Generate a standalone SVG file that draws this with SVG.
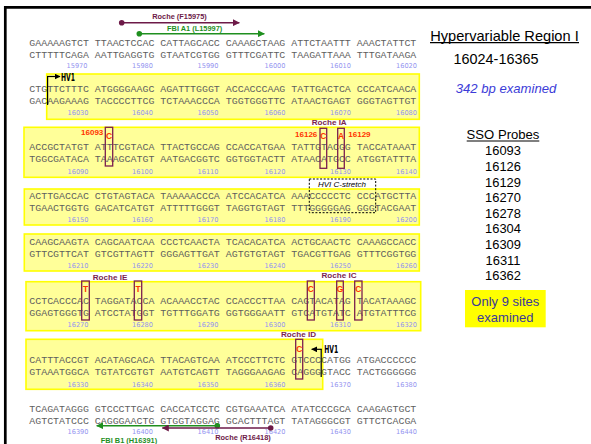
<svg xmlns="http://www.w3.org/2000/svg" width="591" height="444" viewBox="0 0 591 444">
<style>
.seq{font-family:"Liberation Mono","Courier New",monospace;font-size:9.93px;fill:#5e5e5e;white-space:pre}
.num{font-family:"DejaVu Sans",Verdana,sans-serif;font-size:6.6px;fill:#9494f0;text-anchor:end}
.band{fill:#ffff99;stroke:#ffff00;stroke-width:1.6}
.site{fill:none;stroke:#7b1f4f;stroke-width:1.3}
.mut{font-family:"Liberation Sans",Arial,sans-serif;font-weight:bold;font-size:8.5px;fill:#ff3300;text-anchor:middle}
.pos{font-family:"Liberation Sans",Arial,sans-serif;font-weight:bold;font-size:8px;fill:#ff3300}
.probe{font-family:"Liberation Sans",Arial,sans-serif;font-weight:bold;font-size:8.1px;fill:#7b1f4f;text-anchor:middle}
.prim{font-family:"Liberation Sans",Arial,sans-serif;font-weight:bold;font-size:7.4px;text-anchor:middle}
.hv{font-family:"DejaVu Sans Condensed","DejaVu Sans",sans-serif;font-weight:bold;font-size:10px;fill:#000}
.info{font-family:"Liberation Sans",Arial,sans-serif;fill:#000;text-anchor:middle}
.blue{font-family:"Liberation Sans",Arial,sans-serif;text-anchor:middle;font-size:13px;fill:#3a3a9a}
.exam{font-family:"Liberation Sans",Arial,sans-serif;text-anchor:middle;font-size:13.1px;font-style:italic;fill:#3c3cd8}
</style>
<defs>
<marker id="tipM" markerWidth="7" markerHeight="7" refX="6.5" refY="3.5" orient="auto" markerUnits="userSpaceOnUse"><path d="M0,0 L7,3.5 L0,7 z" fill="#6d1a48"/></marker>
<marker id="tipG" markerWidth="7" markerHeight="7" refX="6.5" refY="3.5" orient="auto" markerUnits="userSpaceOnUse"><path d="M0,0 L7,3.5 L0,7 z" fill="#1f8f1f"/></marker>
<marker id="tipK" markerWidth="6" markerHeight="6" refX="5.5" refY="3" orient="auto" markerUnits="userSpaceOnUse"><path d="M0,0 L6,3 L0,6 z" fill="#000"/></marker>
</defs>

<rect width="591" height="444" fill="#fff"/>
<g id="frame">
<line x1="4" y1="7.3" x2="591" y2="7.3" stroke="#000" stroke-width="2.7"/>
<line x1="5.3" y1="6" x2="5.3" y2="444" stroke="#000" stroke-width="2.7"/>
</g>

<g id="bands">
<rect class="band" x="46.7" y="74" width="372.6" height="45.3"/>
<rect class="band" x="24" y="127.3" width="395.3" height="50"/>
<rect class="band" x="24.3" y="189" width="395" height="36"/>
<rect class="band" x="24.3" y="234" width="395" height="37"/>
<rect class="band" x="26" y="281.7" width="394.7" height="49"/>
<rect class="band" x="26" y="339.3" width="296.7" height="50"/>
</g>

<g id="row1">
<text class="seq" x="29.3" y="45.9">GAAAAAGTCT TTAACTCCAC CATTAGCACC CAAAGCTAAG ATTCTAATTT AAACTATTCT</text>
<text class="seq" x="29.3" y="57.6">CTTTTTCAGA AATTGAGGTG GTAATCGTGG GTTTCGATTC TAAGATTAAA TTTGATAAGA</text>
<g transform="translate(0,67.8)"><text class="num" x="87.5">15970</text><text class="num" x="153">15980</text><text class="num" x="218.5">15990</text><text class="num" x="285.5">16000</text><text class="num" x="351">16010</text><text class="num" x="417">16020</text></g>
</g>
<g id="row2">
<text class="seq" x="29.3" y="91.9">CTGTTCTTTC ATGGGGAAGC AGATTTGGGT ACCACCCAAG TATTGACTCA CCCATCAACA</text>
<text class="seq" x="29.3" y="103.8">GACAAGAAAG TACCCCTTCG TCTAAACCCA TGGTGGGTTC ATAACTGAGT GGGTAGTTGT</text>
<g transform="translate(0,115.1)"><text class="num" x="88.5">16030</text><text class="num" x="153">16040</text><text class="num" x="218.5">16050</text><text class="num" x="285.5">16060</text><text class="num" x="351">16070</text><text class="num" x="417">16080</text></g>
</g>
<g id="row3">
<text class="seq" x="29.3" y="150.2">ACCGCTATGT ATTTCGTACA TTACTGCCAG CCACCATGAA TATTGTACGG TACCATAAAT</text>
<text class="seq" x="29.3" y="162.2">TGGCGATACA TAAAGCATGT AATGACGGTC GGTGGTACTT ATAACATGCC ATGGTATTTA</text>
<g transform="translate(0,174.1)"><text class="num" x="88.5">16090</text><text class="num" x="153">16100</text><text class="num" x="218.5">16110</text><text class="num" x="285.5">16120</text><text class="num" x="351">16130</text><text class="num" x="417">16140</text></g>
</g>
<g id="row4">
<text class="seq" x="29.3" y="198.6">ACTTGACCAC CTGTAGTACA TAAAAACCCA ATCCACATCA AAACCCCCTC CCCATGCTTA</text>
<text class="seq" x="29.3" y="211.2">TGAACTGGTG GACATCATGT ATTTTTGGGT TAGGTGTAGT TTTGGGGGAG GGGTACGAAT</text>
<g transform="translate(0,221.8)"><text class="num" x="88.5">16150</text><text class="num" x="153">16160</text><text class="num" x="218.5">16170</text><text class="num" x="285.5">16180</text><text class="num" x="351">16190</text><text class="num" x="417">16200</text></g>
</g>
<g id="row5">
<text class="seq" x="29.3" y="245.2">CAAGCAAGTA CAGCAATCAA CCCTCAACTA TCACACATCA ACTGCAACTC CAAAGCCACC</text>
<text class="seq" x="29.3" y="256.9">GTTCGTTCAT GTCGTTAGTT GGGAGTTGAT AGTGTGTAGT TGACGTTGAG GTTTCGGTGG</text>
<g transform="translate(0,268.4)"><text class="num" x="88.5">16210</text><text class="num" x="153">16220</text><text class="num" x="218.5">16230</text><text class="num" x="285.5">16240</text><text class="num" x="351">16250</text><text class="num" x="417">16260</text></g>
</g>
<g id="row6">
<text class="seq" x="29.3" y="303.6">CCTCACCCAC TAGGATACCA ACAAACCTAC CCACCCTTAA CAGTACATAG TACATAAAGC</text>
<text class="seq" x="29.3" y="316.2">GGAGTGGGTG ATCCTATGGT TGTTTGGATG GGTGGGAATT GTCATGTATC ATGTATTTCG</text>
<g transform="translate(0,327.4)"><text class="num" x="88.5">16270</text><text class="num" x="153">16280</text><text class="num" x="218.5">16290</text><text class="num" x="285.5">16300</text><text class="num" x="351">16310</text><text class="num" x="417">16320</text></g>
</g>
<g id="row7">
<text class="seq" x="29.3" y="362.6">CATTTACCGT ACATAGCACA TTACAGTCAA ATCCCTTCTC GTCCCCATGG ATGACCCCCC</text>
<text class="seq" x="29.3" y="374.6">GTAAATGGCA TGTATCGTGT AATGTCAGTT TAGGGAAGAG CAGGGGTACC TACTGGGGGG</text>
<g transform="translate(0,386.7)"><text class="num" x="88.5">16330</text><text class="num" x="153">16340</text><text class="num" x="218.5">16350</text><text class="num" x="285.5">16360</text><text class="num" x="351">16370</text><text class="num" x="417">16380</text></g>
</g>
<g id="row8">
<text class="seq" x="29.3" y="411.9">TCAGATAGGG GTCCCTTGAC CACCATCCTC CGTGAAATCA ATATCCCGCA CAAGAGTGCT</text>
<text class="seq" x="29.3" y="423.6">AGTCTATCCC CAGGGAACTG GTGGTAGGAG GCACTTTAGT TATAGGGCGT GTTCTCACGA</text>
<g transform="translate(0,433.6)"><text class="num" x="88.5">16390</text><text class="num" x="153">16400</text><text class="num" x="218.5">16410</text><text class="num" x="285.5">16420</text><text class="num" x="351">16430</text><text class="num" x="417">16440</text></g>
</g>

<g id="site16093">
<rect class="site" x="105.3" y="127.3" width="7.4" height="38.7"/>
<text class="mut" x="109" y="139.2">C</text>
<text class="pos" x="103.3" y="135.2" text-anchor="end">16093</text>
</g>
<g id="probeIA">
<text class="probe" x="329.2" y="125.3">Roche IA</text>
<rect class="site" x="320" y="128.3" width="6.7" height="40"/>
<text class="mut" x="323.4" y="138.9">C</text>
<rect class="site" x="337.7" y="128.3" width="6.6" height="40"/>
<text class="mut" x="341" y="138.9">A</text>
<text class="pos" x="317.3" y="136.9" text-anchor="end">16126</text>
<text class="pos" x="348.3" y="136.9">16129</text>
</g>
<g id="cstretch">
<rect x="309.3" y="179" width="66.4" height="33.7" fill="none" stroke="#000" stroke-width="1" stroke-dasharray="2,1.6"/>
<text x="342" y="187.2" font-family="Liberation Sans,Arial,sans-serif" font-style="italic" font-size="8px" fill="#000" text-anchor="middle">HVI C-stretch</text>
</g>
<g id="probeIE">
<text class="probe" x="110" y="279.7">Roche IE</text>
<rect class="site" x="81.7" y="281" width="7.6" height="39"/>
<text class="mut" x="85.5" y="292.3">T</text>
<rect class="site" x="134.3" y="281" width="7.4" height="39"/>
<text class="mut" x="138" y="292.3">T</text>
</g>
<g id="probeIC">
<text class="probe" x="339" y="278">Roche IC</text>
<rect class="site" x="307.3" y="281" width="7" height="39"/>
<text class="mut" x="310.8" y="292.3">C</text>
<rect class="site" x="336.7" y="281" width="6.6" height="39"/>
<text class="mut" x="340" y="292.3">G</text>
<rect class="site" x="354.7" y="281" width="7.3" height="39"/>
<text class="mut" x="358.3" y="292.3">C</text>
</g>
<g id="probeID">
<text class="probe" x="298.5" y="337.3">Roche ID</text>
<rect class="site" x="295.7" y="339.3" width="7" height="39.7"/>
<text class="mut" x="299.2" y="352">C</text>
</g>

<g id="hv1start">
<line x1="47.6" y1="105" x2="47.6" y2="76.5" stroke="#000" stroke-width="1.2"/>
<line x1="47" y1="76.5" x2="60" y2="76.5" stroke="#000" stroke-width="1.2" marker-end="url(#tipK)"/>
<text class="hv" x="61" y="80.8" textLength="14" lengthAdjust="spacingAndGlyphs">HV1</text>
</g>
<g id="hv1end">
<line x1="321.2" y1="349.3" x2="321.2" y2="377" stroke="#000" stroke-width="1.2"/>
<line x1="321.8" y1="349.3" x2="311.7" y2="349.3" stroke="#000" stroke-width="1.2" marker-end="url(#tipK)"/>
<text class="hv" x="324.3" y="353.2" textLength="14" lengthAdjust="spacingAndGlyphs">HV1</text>
</g>

<g id="connectors">
<g id="primerF15975">
<line x1="121.7" y1="22.7" x2="239.3" y2="22.7" stroke="#6d1a48" stroke-width="1.5" marker-end="url(#tipM)"/>
<circle cx="121.7" cy="22.7" r="2.8" fill="#6d1a48"/>
<text class="prim" x="179.5" y="19.4" fill="#6d1a48">Roche (F15975)</text>
</g>
<g id="primerL15997">
<line x1="139.3" y1="33.7" x2="264.3" y2="33.7" stroke="#1f8f1f" stroke-width="1.5" marker-end="url(#tipG)"/>
<circle cx="139.3" cy="33.7" r="2.8" fill="#1f8f1f"/>
<text class="prim" x="194.7" y="30.9" fill="#1f8f1f">FBI A1 (L15997)</text>
</g>
<g id="primerH16391">
<line x1="217.3" y1="425.7" x2="96.7" y2="425.7" stroke="#1f8f1f" stroke-width="1.5" marker-end="url(#tipG)"/>
<circle cx="217.3" cy="425.7" r="2.8" fill="#1f8f1f"/>
<text class="prim" x="129" y="442.6" fill="#1f8f1f">FBI B1 (H16391)</text>
</g>
<g id="primerR16418">
<line x1="270.7" y1="428" x2="162.3" y2="428" stroke="#6d1a48" stroke-width="1.5" marker-end="url(#tipM)"/>
<circle cx="270.7" cy="428" r="2.8" fill="#6d1a48"/>
<text class="prim" x="243" y="440.4" fill="#6d1a48">Roche (R16418)</text>
</g>
</g>

<g id="region">
<text class="info" x="504.5" y="40.7" font-size="14.6px">Hypervariable Region I</text>
<line x1="430" y1="42.6" x2="579" y2="42.6" stroke="#000" stroke-width="1.1"/>
<text class="info" x="496" y="64" font-size="14.4px">16024-16365</text>
<text class="exam" x="506" y="93">342 bp examined</text>
</g>
<g id="sso">
<text class="info" x="503" y="139.3" font-size="13.1px">SSO Probes</text>
<line x1="466.7" y1="141" x2="539.3" y2="141" stroke="#000" stroke-width="1.1"/>
<g font-size="12.9px">
<text class="info" x="503" y="155.4">16093</text>
<text class="info" x="503" y="171">16126</text>
<text class="info" x="503" y="186.6">16129</text>
<text class="info" x="503" y="202.2">16270</text>
<text class="info" x="503" y="217.8">16278</text>
<text class="info" x="503" y="233.4">16304</text>
<text class="info" x="503" y="249">16309</text>
<text class="info" x="503" y="264.6">16311</text>
<text class="info" x="503" y="280.2">16362</text>
</g>
</g>
<g id="note">
<rect x="465" y="290" width="80.7" height="37.3" fill="#ffff00"/>
<text class="blue" x="505.3" y="306.4">Only 9 sites</text>
<text class="blue" x="505.3" y="322">examined</text>
</g>
</svg>
